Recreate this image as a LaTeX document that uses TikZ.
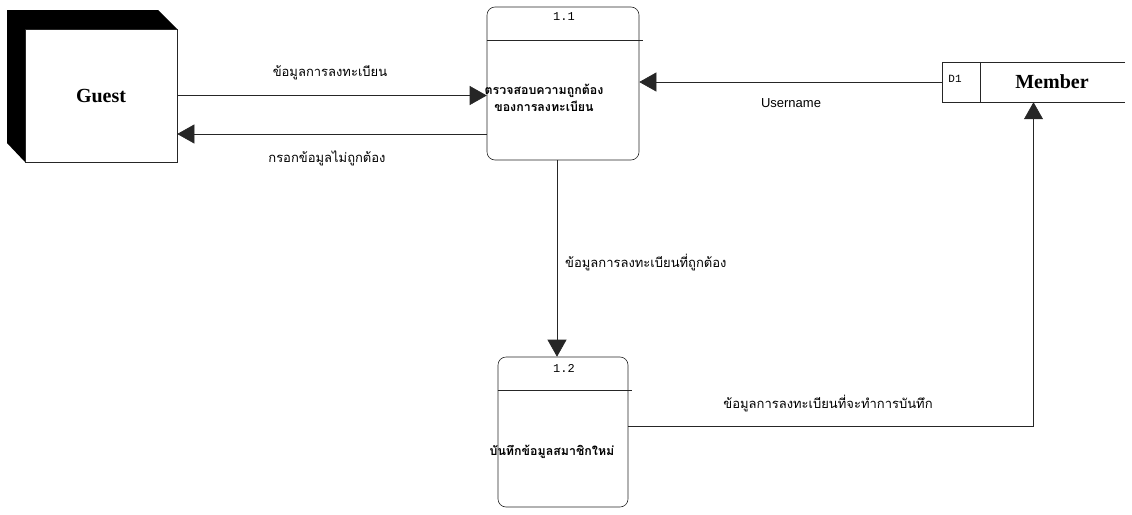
\documentclass[tikz,border=0pt]{standalone}
\usepackage{fontspec}
\usetikzlibrary{arrows.meta,calc}
\setmainfont{Liberation Serif}
\newfontfamily\thai[Script=Thai]{Loma}
\newfontfamily\mono{Liberation Mono}
\newfontfamily\arialish{Liberation Sans}
\begin{document}
\begin{tikzpicture}[x=1pt,y=-1pt,
  line/.style={draw=black!85,line width=0.6pt},
  flow/.style={line,-{Triangle[length=17pt,width=19pt]}},
  proc/.style={line,rounded corners=8pt,fill=white,inner sep=0pt},
  lbl/.style={font=\thai\fontsize{13}{15}\selectfont,inner sep=0pt},
  ptitle/.style={font=\thai\bfseries\fontsize{12.4}{17}\selectfont,align=center,inner sep=0pt},
  pid/.style={font=\mono\fontsize{12}{14}\selectfont,inner sep=0pt},
  ent/.style={font=\bfseries\fontsize{20}{22}\selectfont}]
\useasboundingbox (0,0) rectangle (1132,514);

% external entity Guest with its dark extruded edge
\fill[black] (7,10) -- (158,10) -- (177,29) -- (25,29) -- (25,162) -- (7,143) -- cycle;
\node[line,fill=white,minimum width=152pt,minimum height=133pt,inner sep=0pt,
      ent] (guest) at (101,95.5) {Guest};

% process 1.1
\node[proc,minimum width=152pt,minimum height=153pt] (p11) at (563,83.5) {};
\draw[line] (p11.west |- 0,40) -- ([xshift=4pt]p11.east |- 0,40);
\node[pid] (p11id) at (564,17) {1.1};
\node[ptitle] (p11txt) at (544,98) {ตรวจสอบความถูกต้อง\\ของการลงทะเบียน};

% process 1.2
\node[proc,minimum width=130pt,minimum height=150pt] (p12) at (563,432) {};
\draw[line] (p12.west |- 0,390) -- ([xshift=4pt]p12.east |- 0,390);
\node[pid] (p12id) at (564,368) {1.2};
\node[ptitle] (p12txt) at (552,452) {บันทึกข้อมูลสมาชิกใหม่};

% data store D1 Member (open on the right)
\node[minimum width=183pt,minimum height=40pt,inner sep=0pt] (store) at (1033.5,82) {};
\draw[line] (store.north east) -- (store.north west) -- (store.south west) -- (store.south east);
\draw[line] (store.north west -| 980,0) -- (store.south west -| 980,0);
\node[pid,font=\mono\fontsize{11}{12}\selectfont] (d1) at (955,79) {D1};
\node[ent] (member) at (1052,82) {Member};

% data flows
\draw[flow] (guest.east) -- (guest.east -| p11.west);
\draw[flow] (p11.west |- 0,134) -- (guest.east |- 0,134);
\draw[flow] (store.west) -- (store.west -| p11.east);
\draw[flow] ([xshift=-6pt]p11.south) -- ([xshift=-6pt]p11.south |- p12.north);
\draw[flow] ([yshift=6pt]p12.east) -| (store.south);

% flow labels
\node[lbl] (l1) at (330,73) {ข้อมูลการลงทะเบียน};
\node[lbl] (l2) at (327,158) {กรอกข้อมูลไม่ถูกต้อง};
\node[font=\arialish\fontsize{13}{15}\selectfont,inner sep=0pt] (l3) at (791,103) {Username};
\node[lbl,anchor=west] (l4) at (565,263) {ข้อมูลการลงทะเบียนที่ถูกต้อง};
\node[lbl] (l5) at (828,404) {ข้อมูลการลงทะเบียนที่จะทำการบันทึก};
\end{tikzpicture}
\end{document}
